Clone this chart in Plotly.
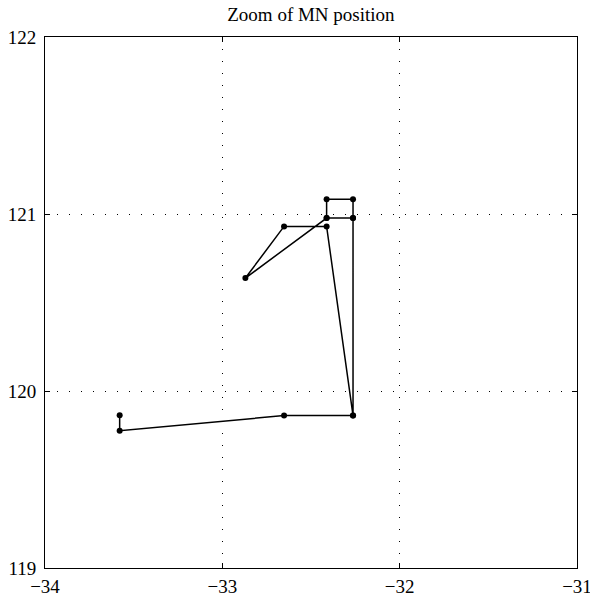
import plotly.graph_objects as go

# MN position track (x, y), in traversal order
xs = [-33.579, -33.579, -32.652, -32.263, -32.263, -32.412, -32.870, -32.652,
      -32.412, -32.263, -32.263, -32.263, -32.412, -32.412]
ys = [119.863, 119.776, 119.861, 119.861, 120.977, 120.977, 120.638, 120.930,
      120.930, 119.861, 120.977, 121.083, 121.083, 120.977]

x_ticks = [-34, -33, -32, -31]
y_ticks = [119, 120, 121, 122]

fig = go.Figure()
fig.add_trace(go.Scatter(
    x=xs, y=ys, mode="lines+markers",
    line=dict(color="black", width=1.5),
    marker=dict(color="black", size=6),
    showlegend=False,
))

FAM = "Liberation Serif"
font = dict(family=FAM, size=19, color="black")

axis_common = dict(
    showline=True, linecolor="black", linewidth=1, mirror="allticks",
    ticks="inside", ticklen=5, tickcolor="black",
    showgrid=True, gridcolor="black", griddash="1px,11px", gridwidth=1,
    zeroline=False, tickfont=font, automargin=False,
    ticklabeloverflow="allow",
)

fig.update_layout(
    width=590, height=597,
    margin=dict(l=45, r=13, t=37, b=29, autoexpand=False),
    paper_bgcolor="white", plot_bgcolor="white",
    title=dict(text="Zoom of MN position", x=0.527, xanchor="center",
               y=0.976, yanchor="middle",
               font=dict(family=FAM, size=19, color="black")),
    xaxis=dict(range=[-34, -31], tickvals=x_ticks, ticklabelstandoff=1, **axis_common),
    yaxis=dict(range=[119, 122], tickvals=y_ticks, ticklabelstandoff=4, **axis_common),
)

fig.write_html("out.html")
